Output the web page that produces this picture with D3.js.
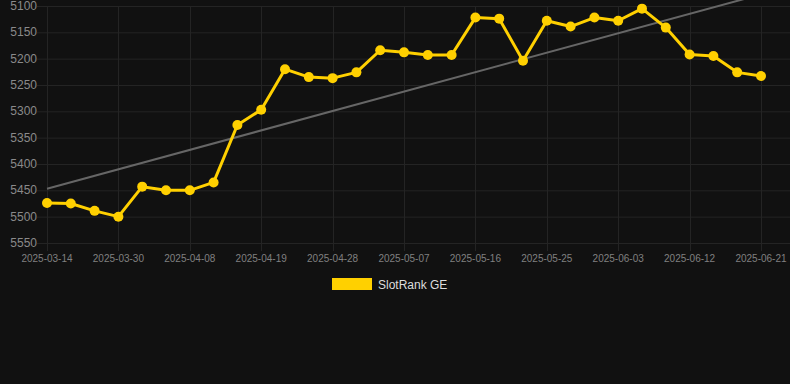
<!DOCTYPE html>
<html lang="en">
<head>
<meta charset="utf-8">
<title>SlotRank GE</title>
<script src="https://d3js.org/d3.v7.min.js"></script>
<style>
  body { margin: 0; background: #111111; }
  svg { display: block; background: #111111; font-family: "Liberation Sans", Arial, sans-serif; }
</style>
</head>
<body>
<svg id="chart" width="790" height="384"></svg>
<script>
// data
var dates = ["2025-03-14","2025-03-19","2025-03-25","2025-03-30","2025-04-02","2025-04-05","2025-04-08",
             "2025-04-12","2025-04-15","2025-04-19","2025-04-22","2025-04-25","2025-04-28","2025-05-01",
             "2025-05-04","2025-05-07","2025-05-10","2025-05-13","2025-05-16","2025-05-19","2025-05-22",
             "2025-05-25","2025-05-28","2025-05-31","2025-06-03","2025-06-06","2025-06-09","2025-06-12",
             "2025-06-15","2025-06-18","2025-06-21"]
var ranks = [5474, 5475, 5489, 5500, 5443, 5450, 5450, 5435, 5326, 5297, 5220, 5235, 5237, 5226,
             5184, 5188, 5193, 5193, 5122, 5124, 5204, 5128, 5139, 5122, 5128, 5105, 5141, 5192,
             5195, 5226, 5233]
var trendEnds = [5447, 5078]   // trend line at first and last date
var yTicks = [5100, 5150, 5200, 5250, 5300, 5350, 5400, 5450, 5500, 5550]
var seriesName = "SlotRank GE"

var gold = "#ffd000"
var margin = {top: 6, right: 0, bottom: 141, left: 40}
var W = 790, H = 384

var svg = d3.select("#chart")

var x = d3.scalePoint().domain(dates).range([47, 761])
var y = d3.scaleLinear().domain([5100, 5550]).range([margin.top, H - margin.bottom])

// horizontal grid + y labels
var yg = svg.append("g")
yg.selectAll("line").data(yTicks).enter().append("line")
  .attr("x1", margin.left - 3).attr("x2", W)
  .attr("y1", d => y(d) + 0.5).attr("y2", d => y(d) + 0.5)
  .attr("stroke", "#242424").attr("stroke-width", 1)
yg.selectAll("text").data(yTicks).enter().append("text")
  .attr("x", 37).attr("y", d => y(d) + 4)
  .attr("text-anchor", "end")
  .attr("fill", "#8a8a8a").attr("font-size", 12)
  .text(d => d)

// vertical grid + x labels, every third date
var xTickDates = dates.filter((d, i) => i % 3 == 0)
var xg = svg.append("g")
xg.selectAll("line").data(xTickDates).enter().append("line")
  .attr("x1", d => Math.round(x(d)) + 0.5).attr("x2", d => Math.round(x(d)) + 0.5)
  .attr("y1", margin.top).attr("y2", y(5550) + 8)
  .attr("stroke", "#242424").attr("stroke-width", 1)
xg.selectAll("text").data(xTickDates).enter().append("text")
  .attr("x", d => x(d)).attr("y", 262)
  .attr("text-anchor", "middle")
  .attr("fill", "#808080").attr("font-size", 10)
  .text(d => d)

// trend line
svg.append("line")
  .attr("x1", x(dates[0])).attr("y1", y(trendEnds[0]))
  .attr("x2", x(dates[dates.length - 1])).attr("y2", y(trendEnds[1]))
  .attr("stroke", "#666666").attr("stroke-width", 2)

// series line
var line = d3.line()
  .x((d, i) => x(dates[i]))
  .y(d => y(d))
svg.append("path")
  .datum(ranks)
  .attr("d", line)
  .attr("fill", "none")
  .attr("stroke", gold)
  .attr("stroke-width", 3)
  .attr("stroke-linejoin", "round")

svg.append("g").selectAll("circle").data(ranks).enter().append("circle")
  .attr("cx", (d, i) => x(dates[i]))
  .attr("cy", d => y(d))
  .attr("r", 5)
  .attr("fill", gold)

// legend
svg.append("rect")
  .attr("x", 332).attr("y", 278).attr("width", 40).attr("height", 12)
  .attr("fill", gold)
svg.append("text")
  .attr("x", 378).attr("y", 289)
  .attr("fill", "#dddddd").attr("font-size", 12)
  .text(seriesName)
</script>
</body>
</html>
